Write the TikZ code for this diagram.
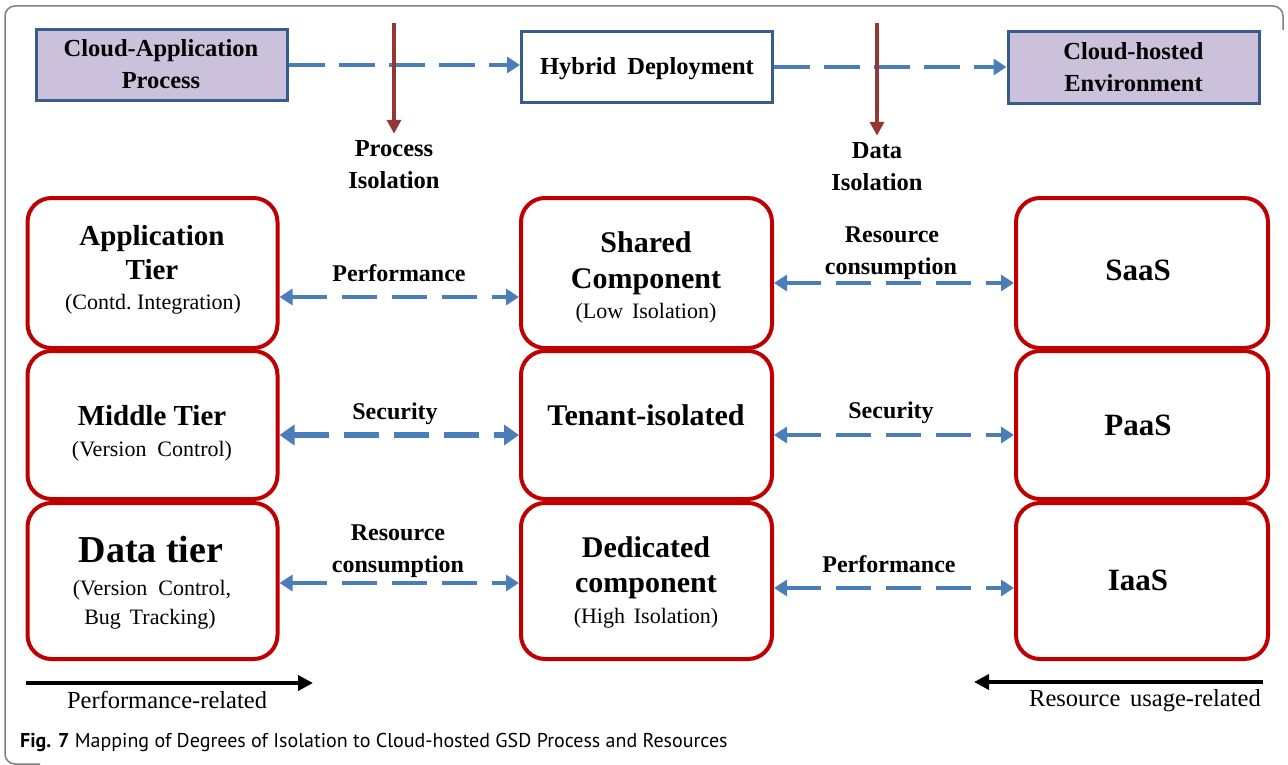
\documentclass[tikz,border=0pt]{standalone}
\usepackage{fontspec}
\setmainfont{Liberation Serif}
\newfontfamily\capfont{PT Sans}
\usetikzlibrary{arrows.meta}
\definecolor{boxred}{HTML}{C00000}
\definecolor{arrblue}{HTML}{4A7EBB}
\definecolor{topblue}{HTML}{385D8A}
\definecolor{lav}{HTML}{CCC1DA}
\definecolor{darkred}{HTML}{953735}
\definecolor{framegray}{HTML}{7F7F7F}
\tikzset{
  tier/.style={draw=boxred, line width=4pt, rounded corners=24pt, fill=white, inner sep=0, minimum width=250pt},
  topbox/.style={draw=topblue, line width=3pt, inner sep=0, minimum width=251pt, minimum height=71pt},
  bt/.style={anchor=base, inner sep=0, font=\fontsize{29}{32}\selectfont\bfseries},
  bm/.style={anchor=base, inner sep=0, font=\fontsize{30}{32}\selectfont\bfseries},
  rt/.style={anchor=base, inner sep=0, font=\fontsize{22}{24}\selectfont},
  lt/.style={anchor=base, inner sep=0, font=\fontsize{24}{26}\selectfont\bfseries},
  tt/.style={anchor=base, inner sep=0, font=\fontsize{24.5}{27}\selectfont\bfseries},
  bigt/.style={anchor=base, inner sep=0, font=\fontsize{38}{40}\selectfont\bfseries},
  nt/.style={anchor=base, inner sep=0, font=\fontsize{24.5}{27}\selectfont},
  darr/.style={arrblue, line width=4.5pt, dash pattern=on 35pt off 15pt, {Triangle[length=13pt,width=16pt]}-{Triangle[length=13pt,width=16pt]}},
  darrthick/.style={arrblue, line width=5.5pt, dash pattern=on 35pt off 15pt, {Triangle[length=15pt,width=20pt]}-{Triangle[length=15pt,width=20pt]}},
  tdarr/.style={arrblue, line width=4.5pt, dash pattern=on 36pt off 14pt, -{Triangle[length=13pt,width=16pt]}},
  redarr/.style={darkred, line width=3.5pt, -{Triangle[length=14pt,width=14pt]}},
  blkarr/.style={black, line width=4pt, -{Triangle[length=15pt,width=15pt]}},
  frame/.style={draw=framegray, line width=1.5pt, rounded corners=10pt}
}
\begin{document}
\begin{tikzpicture}[x=1pt,y=-1pt]
\useasboundingbox (0,0) rectangle (1288,765);
% frame
\draw[frame] (1283,30) -- (1283,6) -- (5,6) -- (5,764) -- (40,764);

% top boxes
\node[topbox, fill=lav] (cap) at (162,65) {};
\node[topbox, fill=white] (hyb) at (647,67) {};
\node[topbox, fill=lav, minimum height=72pt] (env) at (1133.5,67.5) {};
\node[tt] (capa) at (161,57) {Cloud-Application};
\node[tt] (capb) at (161,89) {Process};
\node[tt] (hybt) at (647,75) {Hybrid\hspace{0.45em}Deployment};
\node[tt] (enva) at (1133.5,60) {Cloud-hosted};
\node[tt] (envb) at (1133.5,92) {Environment};

\draw[tdarr] (cap.east) -- (cap.east -| hyb.west);
\draw[tdarr] (hyb.east) -- (hyb.east -| env.west);

% isolation labels and red arrows
\node[tt] (pisoa) at (394,157) {Process};
\node[tt] (pisob) at (394,188) {Isolation};
\node[tt] (disoa) at (877,159) {Data};
\node[tt] (disob) at (877,190) {Isolation};
\coordinate (ps) at (394,23);
\coordinate (ds) at (877,23);
\draw[redarr, shorten >=7pt] (ps) -- (pisoa.north);
\draw[redarr, shorten >=7pt] (ds) -- (disoa.north);

% tier boxes
\node[tier, minimum height=150pt] (app) at (152.5,273) {};
\node[tier, minimum height=148pt] (mid) at (152.5,425) {};
\node[tier, minimum height=156pt] (dat) at (152.5,581) {};
\node[tier, minimum width=251pt, minimum height=150pt] (shared) at (646.5,273) {};
\node[tier, minimum width=251pt, minimum height=148pt] (tenant) at (646.5,425) {};
\node[tier, minimum width=251pt, minimum height=156pt] (ded) at (646.5,581) {};
\node[tier, minimum width=252pt, minimum height=150pt] (saas) at (1142,273) {};
\node[tier, minimum width=252pt, minimum height=148pt] (paas) at (1142,425) {};
\node[tier, minimum width=252pt, minimum height=156pt] (iaas) at (1142,581) {};

% tier texts
\node[bt] (appa) at (152,245) {Application};
\node[bt] (appb) at (152,279) {Tier};
\node[rt] (appc) at (153,309) {(Contd.\ Integration)};
\node[bt] (mida) at (152,425) {Middle Tier};
\node[rt] (midb) at (152,456) {(Version\hspace{0.5em}Control)};
\node[bigt] (data) at (151,562) {Data tier};
\node[rt] (datb) at (152,595) {(Version\hspace{0.5em}Control,};
\node[rt] (datc) at (150,624) {Bug\hspace{0.4em}Tracking)};

\node[bm] (sha) at (646,252) {Shared};
\node[bm] (shb) at (646,288) {Component};
\node[rt] (shc) at (646,318) {(Low\hspace{0.4em}Isolation)};
\node[bm] (tena) at (646,425) {Tenant-isolated};
\node[bm] (deda) at (646,557) {Dedicated};
\node[bm] (dedb) at (646,592) {component};
\node[rt] (dedc) at (646,623) {(High\hspace{0.4em}Isolation)};

\node[bm, font=\fontsize{31}{33}\selectfont\bfseries] (saast) at (1138,280) {SaaS};
\node[bm, font=\fontsize{31}{33}\selectfont\bfseries] (paast) at (1138,435) {PaaS};
\node[bm, font=\fontsize{31}{33}\selectfont\bfseries] (iaast) at (1138,590) {IaaS};

% horizontal connectors
\draw[darr] ([yshift=-24pt]app.east) -- ([yshift=-24pt]app.east -| shared.west);
\draw[darrthick] ([yshift=-10pt]mid.east) -- ([yshift=-10pt]mid.east -| tenant.west);
\draw[darr] ([yshift=-2pt]dat.east) -- ([yshift=-2pt]dat.east -| ded.west);
\draw[darr] ([yshift=-10pt]shared.east) -- ([yshift=-10pt]shared.east -| saas.west);
\draw[darr] ([yshift=-10pt]tenant.east) -- ([yshift=-10pt]tenant.east -| paas.west);
\draw[darr] ([yshift=-7pt]ded.east) -- ([yshift=-7pt]ded.east -| iaas.west);

% connector labels
\node[lt] (l1) at (399,281) {Performance};
\node[lt] (l2) at (395,419) {Security};
\node[lt] (l3a) at (398,540) {Resource};
\node[lt] (l3b) at (398,572) {consumption};
\node[lt] (r1a) at (892,242) {Resource};
\node[lt] (r1b) at (891,274) {consumption};
\node[lt] (r2) at (891,418) {Security};
\node[lt] (r3) at (889,572) {Performance};

% bottom arrows
\coordinate (pl0) at (26,683);
\coordinate (pl1) at (313,683);
\draw[blkarr] (pl0) -- (pl1);
\coordinate (rl0) at (1263,682);
\coordinate (rl1) at (974,682);
\draw[blkarr] (rl0) -- (rl1);
\node[nt] (perfrel) at (167,708) {Performance-related};
\node[nt] (resrel) at (1145,706) {Resource\hspace{0.4em}usage-related};

% caption
\node[anchor=base west, inner sep=0, font=\capfont\fontsize{20}{22}\selectfont] (figcap) at (20,747) {\textbf{Fig. 7} Mapping of Degrees of Isolation to Cloud-hosted GSD Process and Resources};
\end{tikzpicture}
\end{document}
